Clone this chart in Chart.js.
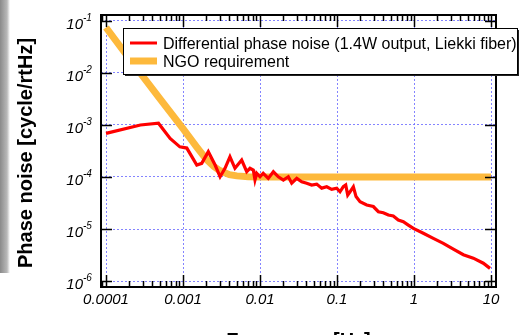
<!DOCTYPE html>
<html>
<head>
<meta charset="utf-8">
<script src="https://cdn.jsdelivr.net/npm/chart.js@4.4.1/dist/chart.umd.min.js"></script>
<style>
  html, body { margin: 0; padding: 0; background: #fff; }
  #wrap { position: relative; width: 519px; height: 335px; overflow: hidden; }
</style>
</head>
<body>
<div id="wrap"><canvas id="chart" width="519" height="335"></canvas></div>
<script>
// frecuencias y ruido de fase diferencial
const freqRed = [1.0e-4, 2.8e-4, 4.8e-4, 6.8e-4, 9.1e-4, 1.12e-3, 1.51e-3, 1.75e-3, 2.13e-3, 2.61e-3,
  3.03e-3, 3.51e-3, 4.07e-3, 4.73e-3, 5.78e-3, 6.72e-3, 7.41e-3, 8.18e-3, 8.6e-3, 9.05e-3,
  0.0100, 0.0110, 0.0128, 0.0149, 0.0173, 0.0201, 0.0233, 0.0258, 0.0300, 0.0348,
  0.0404, 0.0469, 0.0545, 0.0633, 0.0735, 0.0853, 0.0991, 0.1094, 0.1207, 0.1297,
  0.1377, 0.1475, 0.163, 0.1766, 0.199, 0.243, 0.296, 0.344, 0.399, 0.464,
  0.538, 0.625, 0.726, 0.843, 0.98, 1.32, 1.78, 2.40, 3.24, 4.37, 5.89, 7.94, 9.7];
const noiseRed = [6.9e-4, 1.0e-3, 1.08e-3, 5.5e-4, 3.8e-4, 3.6e-4, 1.7e-4, 1.83e-4, 3.07e-4, 1.7e-4,
  1.01e-4, 1.47e-4, 2.45e-4, 1.47e-4, 2.12e-4, 1.27e-4, 1.47e-4, 1.36e-4, 8.8e-5, 1.18e-4,
  1.01e-4, 1.18e-4, 9.4e-5, 1.26e-4, 1.01e-4, 8.75e-5, 1.01e-4, 7.6e-5, 9.4e-5, 8.1e-5,
  7.6e-5, 7.0e-5, 7.3e-5, 6.1e-5, 6.5e-5, 5.8e-5, 6.1e-5, 5.2e-5, 6.5e-5, 7.0e-5,
  4.5e-5, 5.2e-5, 6.5e-5, 4.2e-5, 3.35e-5, 2.9e-5, 2.7e-5, 2.15e-5, 2.06e-5, 1.86e-5,
  1.78e-5, 1.49e-5, 1.38e-5, 1.19e-5, 1.03e-5, 8.3e-6, 6.6e-6, 5.3e-6, 4.1e-6, 3.2e-6, 2.75e-6, 2.2e-6, 1.75e-6];

// requisito NGO
const freqNgo = [1.0e-4, 2.0e-4, 5.0e-4, 1.0e-3, 1.5e-3, 2.0e-3, 2.5e-3, 3.0e-3, 4.0e-3, 5.0e-3, 7.0e-3, 1.0e-2, 10];
const ngoReq = [7.5e-2, 1.9e-2, 3.2e-3, 8.5e-4, 3.8e-4, 2.2e-4, 1.6e-4, 1.33e-4, 1.11e-4, 1.05e-4, 1.01e-4, 1.0e-4, 1.0e-4];

const xDecades = [1e-4, 1e-3, 1e-2, 1e-1, 1, 10];
const xLabels = ['0.0001', '0.001', '0.01', '0.1', '1', '10'];
const yDecades = [1e-1, 1e-2, 1e-3, 1e-4, 1e-5, 1e-6];
const yExps = ['-1', '-2', '-3', '-4', '-5', '-6'];

const seriesNames = ['Differential phase noise (1.4W output, Liekki fiber)', 'NGO requirement'];
const RED = '#ff0000';
const ORANGE = '#fdb93c';

// Marco, marcas interiores, etiquetas y leyenda
const decor = {
  id: 'decor',
  beforeDraw(chart) {
    const ctx = chart.ctx;
    ctx.save();
    ctx.fillStyle = '#fff';
    ctx.fillRect(0, 0, chart.width, chart.height);
    // franja gris a la izquierda (resto de otra imagen)
    const g = ctx.createLinearGradient(0, 0, 10, 0);
    g.addColorStop(0, '#8a8a8a');
    g.addColorStop(0.7, '#b8b8b8');
    g.addColorStop(1, '#ffffff');
    ctx.fillStyle = g;
    ctx.fillRect(0, 0, 10, 273);
    ctx.restore();
  },
  afterDraw(chart) {
    const ctx = chart.ctx;
    const a = chart.chartArea;
    const xs = chart.scales.x, ys = chart.scales.y;
    ctx.save();

    // marcas
    ctx.strokeStyle = '#000';
    ctx.lineWidth = 1.5;
    ctx.beginPath();
    xDecades.forEach(d => {
      for (let k = 1; k <= 9; k++) {
        [d / 10 * k, d * k].forEach(v => {
          if (v < xs.min || v > xs.max) return;
          const px = Math.round(xs.getPixelForValue(v)) + 0.5;
          const len = (k === 1) ? 12 : 6;
          ctx.moveTo(px, a.bottom); ctx.lineTo(px, a.bottom - len);
          ctx.moveTo(px, a.top); ctx.lineTo(px, a.top + len);
        });
      }
    });
    yDecades.forEach(v => {
      const py = Math.round(ys.getPixelForValue(v)) + 0.5;
      ctx.moveTo(a.left, py); ctx.lineTo(a.left + 11, py);
      ctx.moveTo(a.right, py); ctx.lineTo(a.right - 11, py);
    });
    ctx.stroke();

    // marco
    ctx.lineWidth = 2;
    ctx.strokeRect(a.left, a.top, a.right - a.left, a.bottom - a.top);

    // etiquetas eje x
    ctx.fillStyle = '#000';
    ctx.font = 'italic 15px "Liberation Sans", Arial, sans-serif';
    ctx.textAlign = 'center';
    ctx.textBaseline = 'alphabetic';
    xDecades.forEach((v, i) => {
      ctx.fillText(xLabels[i], xs.getPixelForValue(v), a.bottom + 17);
    });

    // etiquetas eje y (10 con exponente)
    yDecades.forEach((v, i) => {
      const py = ys.getPixelForValue(v);
      ctx.font = 'italic 15px "Liberation Sans", Arial, sans-serif';
      ctx.textAlign = 'right';
      ctx.fillText('10', 83, py + 8);
      ctx.font = 'italic 10px "Liberation Sans", Arial, sans-serif';
      ctx.textAlign = 'left';
      ctx.fillText(yExps[i], 83, py);
    });

    // titulos
    ctx.font = 'bold 20px "Liberation Sans", Arial, sans-serif';
    ctx.textAlign = 'center';
    ctx.fillText('Frequency [Hz]', (a.left + a.right) / 2, a.bottom + 60);
    ctx.save();
    ctx.translate(32, 268);
    ctx.rotate(-Math.PI / 2);
    ctx.textAlign = 'left';
    ctx.fillText('Phase noise [cycle/rtHz]', 0, 0);
    ctx.restore();

    // leyenda
    const L = 123, T = 28, R = 517, B = 74;
    ctx.fillStyle = '#222';
    ctx.fillRect(L + 2, T + 2, R - L, B - T);
    ctx.fillStyle = '#fff';
    ctx.fillRect(L, T, R - L, B - T);
    ctx.strokeStyle = '#000';
    ctx.lineWidth = 1;
    ctx.strokeRect(L + 0.5, T + 0.5, R - L, B - T);
    const colors = [RED, ORANGE];
    const widths = [3, 7];
    const rows = [43, 61];
    rows.forEach((y, i) => {
      ctx.strokeStyle = colors[i];
      ctx.lineWidth = widths[i];
      ctx.beginPath();
      ctx.moveTo(130, y); ctx.lineTo(157, y);
      ctx.stroke();
      ctx.fillStyle = '#000';
      ctx.font = '16px "Liberation Sans", Arial, sans-serif';
      ctx.textAlign = 'left';
      ctx.fillText(seriesNames[i], 163, y + 6);
    });
    ctx.restore();
  }
};

const ctx = document.getElementById('chart').getContext('2d');
const chart = new Chart(ctx, {
  type: 'line',
  data: {
    datasets: [
      {
        label: seriesNames[0],
        data: freqRed.map((f, i) => ({ x: f, y: noiseRed[i] })),
        borderColor: RED,
        borderWidth: 3.2,
        pointRadius: 0,
        tension: 0
      },
      {
        label: seriesNames[1],
        data: freqNgo.map((f, i) => ({ x: f, y: ngoReq[i] })),
        borderColor: ORANGE,
        borderWidth: 7,
        pointRadius: 0,
        tension: 0
      }
    ]
  },
  options: {
    responsive: false,
    animation: false,
    layout: { padding: { left: 101, top: 15, right: 23, bottom: 48 } },
    plugins: { legend: { display: false }, tooltip: { enabled: false } },
    scales: {
      x: {
        type: 'logarithmic',
        min: 8.61e-5,
        max: 11.6,
        afterBuildTicks: s => { s.ticks = xDecades.map(v => ({ value: v })); },
        ticks: { display: false },
        grid: { color: 'rgba(110,110,255,0.85)', lineWidth: 1, drawTicks: false },
        border: { display: false, dash: [2, 2] }
      },
      y: {
        type: 'logarithmic',
        min: 7.67e-7,
        max: 0.1303,
        afterBuildTicks: s => { s.ticks = yDecades.map(v => ({ value: v })); },
        ticks: { display: false },
        grid: { color: 'rgba(110,110,255,0.85)', lineWidth: 1, drawTicks: false },
        border: { display: false, dash: [2, 2] }
      }
    }
  },
  plugins: [decor]
});
</script>
</body>
</html>
